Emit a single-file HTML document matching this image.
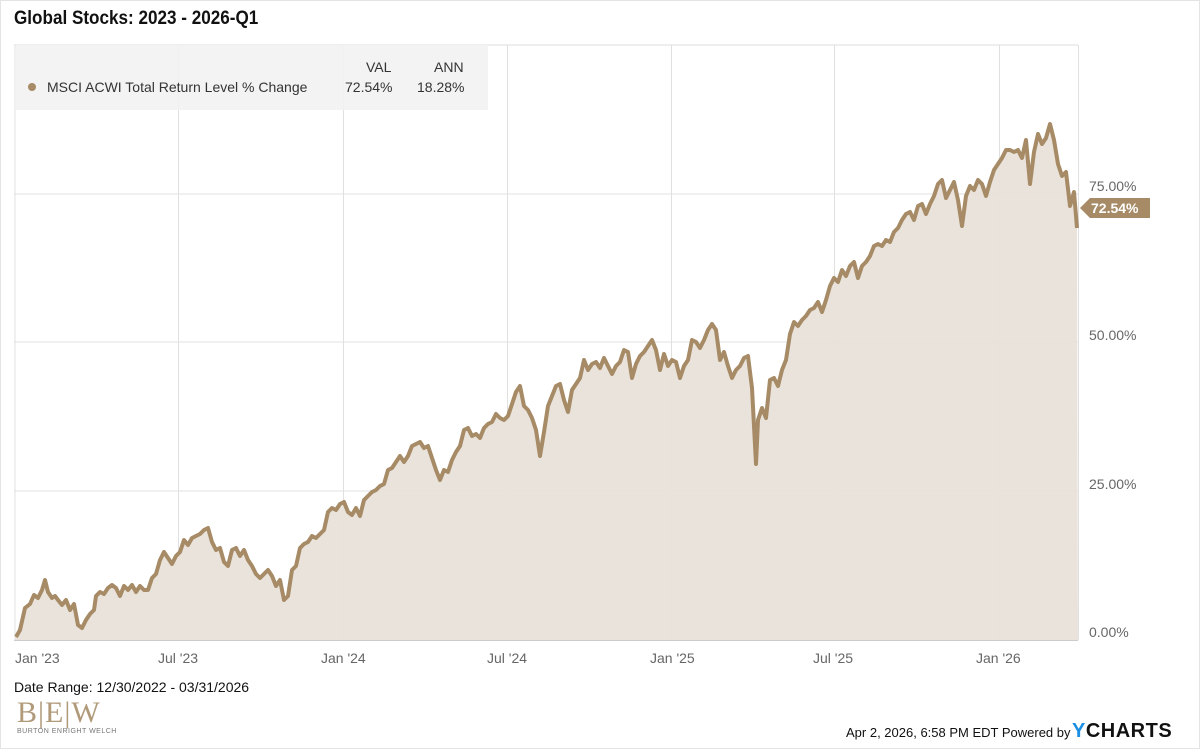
<!DOCTYPE html>
<html><head><meta charset="utf-8"><style>
body{margin:0;width:1200px;height:749px;background:#fff;font-family:"Liberation Sans",sans-serif;overflow:hidden;position:relative}
.t{position:absolute;white-space:nowrap}
</style></head><body>
<div style="position:absolute;left:0;top:0;width:1198px;height:747px;border:1px solid #e4e4e4"></div>
<div class="t" style="left:14px;top:8px;font-size:19px;font-weight:bold;color:#111;transform:scaleX(0.9);transform-origin:left">Global Stocks: 2023 - 2026-Q1</div>
<svg width="1200" height="749" style="position:absolute;left:0;top:0">
<line x1="14" y1="45" x2="1078" y2="45" stroke="#ddd"/>
<g stroke="#e0e0e0" stroke-width="1">
<line x1="14" y1="194" x2="1078" y2="194"/><line x1="14" y1="342" x2="1078" y2="342"/><line x1="14" y1="491" x2="1078" y2="491"/>
<line x1="15" y1="45" x2="15" y2="640"/><line x1="178.5" y1="45" x2="178.5" y2="640"/><line x1="343.5" y1="45" x2="343.5" y2="640"/><line x1="507.5" y1="45" x2="507.5" y2="640"/><line x1="671.5" y1="45" x2="671.5" y2="640"/><line x1="834.5" y1="45" x2="834.5" y2="640"/><line x1="999.5" y1="45" x2="999.5" y2="640"/><line x1="1078.5" y1="45" x2="1078.5" y2="640"/>
</g>
<rect x="16" y="45" width="472" height="65" fill="#f2f2f2" opacity="0.9"/>
<polygon id="area" fill="#e9e2d9" opacity="0.95" points=""/>
<polyline id="ln" fill="none" stroke="#a68b66" stroke-width="4" stroke-linejoin="round" points=""/>
<line x1="14" y1="640.5" x2="1078" y2="640.5" stroke="#ccc"/>
<circle cx="32" cy="87" r="4" fill="#a68b66"/>
<polygon points="1080,208 1090,198 1150,198 1150,218 1090,218" fill="#a68b66"/>
</svg>
<script>
var p=[16,637,20,630,25,608,30,604,34,595,38,598,42,590,45,580,48,592,52,598,55,596,58,600,62,605,66,600,70,610,74,604,78,625,82,628,86,620,90,614,94,610,96,596,100,592,104,594,108,588,112,585,116,588,120,596,124,586,128,590,132,585,136,592,140,586,144,590,148,590,152,578,156,574,160,560,164,552,168,558,172,564,176,556,180,552,184,540,188,545,192,538,196,536,200,534,204,530,208,528,212,542,216,550,220,548,224,562,228,566,232,550,236,548,240,556,244,550,248,560,252,566,256,574,260,578,264,574,268,570,272,576,276,586,280,580,284,600,288,596,292,570,296,566,300,548,304,544,308,542,312,536,316,538,320,534,324,530,328,512,332,508,336,510,340,504,344,502,348,512,352,515,356,508,360,516,364,500,368,496,372,492,376,490,380,486,384,484,388,470,392,468,396,462,400,456,404,462,408,456,412,446,416,444,420,442,424,448,428,446,432,458,436,470,440,480,444,470,448,472,452,460,456,452,460,446,464,430,468,428,472,436,476,434,480,438,484,428,488,424,492,422,496,414,500,418,504,420,508,416,512,404,516,392,520,386,524,406,528,410,532,418,536,430,540,456,544,432,548,406,552,396,556,386,560,384,564,400,568,412,572,390,576,384,580,378,584,360,588,370,592,364,596,362,600,368,604,358,608,366,612,374,616,366,620,362,624,350,628,352,632,378,636,364,640,356,644,352,648,346,652,340,656,350,660,370,664,354,668,366,672,360,676,362,680,378,684,366,688,360,692,340,696,342,700,348,704,340,708,330,712,324,716,330,720,360,724,352,728,366,732,378,736,370,740,366,744,358,748,356,752,388,756,464,758,420,762,408,766,418,770,380,774,378,778,386,782,370,786,360,790,334,794,322,798,326,802,320,806,316,810,310,814,308,818,302,822,312,826,300,830,286,834,278,838,282,842,270,846,276,850,266,854,262,858,278,862,266,866,262,870,256,874,246,878,244,882,246,886,240,890,242,894,232,898,228,902,220,906,214,910,212,914,220,918,206,922,204,926,214,930,204,934,196,938,184,942,180,946,198,950,190,954,182,958,200,962,226,966,196,970,186,974,190,978,180,982,184,986,196,990,182,994,170,998,164,1002,158,1006,150,1010,150,1014,152,1018,150,1022,158,1026,140,1030,184,1034,152,1038,134,1042,144,1046,138,1050,124,1054,140,1058,164,1062,176,1066,172,1070,206,1074,192,1077,228];
var s=[];for(var i=0;i<p.length;i+=2)s.push(p[i]+","+p[i+1]);
document.getElementById('ln').setAttribute('points',s.join(' '));
document.getElementById('area').setAttribute('points',"15,640 "+s.join(' ')+" 1078,640");
</script>
<div class="t" style="left:47px;top:79px;font-size:14px;color:#333">MSCI ACWI Total Return Level % Change</div>
<div class="t" style="left:366px;top:59px;font-size:14px;color:#333">VAL</div>
<div class="t" style="left:434px;top:59px;font-size:14px;color:#333">ANN</div>
<div class="t" style="left:345px;top:79px;font-size:14px;color:#333">72.54%</div>
<div class="t" style="left:417px;top:79px;font-size:14px;color:#333">18.28%</div>
<div class="t" style="left:1089px;top:178px;font-size:14px;color:#666">75.00%</div>
<div class="t" style="left:1091px;top:200px;font-size:14px;font-weight:bold;color:#fff">72.54%</div>
<div class="t" style="left:1089px;top:327px;font-size:14px;color:#666">50.00%</div>
<div class="t" style="left:1089px;top:476px;font-size:14px;color:#666">25.00%</div>
<div class="t" style="left:1089px;top:624px;font-size:14px;color:#666">0.00%</div>
<div class="t" style="left:15px;top:650px;font-size:14px;color:#666">Jan '23</div>
<div class="t" style="left:158px;top:650px;font-size:14px;color:#666">Jul '23</div>
<div class="t" style="left:321px;top:650px;font-size:14px;color:#666">Jan '24</div>
<div class="t" style="left:487px;top:650px;font-size:14px;color:#666">Jul '24</div>
<div class="t" style="left:650px;top:650px;font-size:14px;color:#666">Jan '25</div>
<div class="t" style="left:813px;top:650px;font-size:14px;color:#666">Jul '25</div>
<div class="t" style="left:976px;top:650px;font-size:14px;color:#666">Jan '26</div>
<div class="t" style="left:14px;top:679px;font-size:14px;color:#111">Date Range: 12/30/2022 - 03/31/2026</div>
<div class="t" style="left:17px;top:696px;font-family:'Liberation Serif',serif;font-size:30px;color:#b09a7a;letter-spacing:1px">B|E|W</div>
<div class="t" style="left:17px;top:728px;font-size:7px;color:#777;letter-spacing:0.5px">BURTON ENRIGHT WELCH</div>
<div class="t" style="left:846px;top:725px;font-size:13px;color:#111">Apr 2, 2026, 6:58 PM EDT Powered by</div>
<div class="t" style="left:1072px;top:720px;font-size:20px;font-weight:bold;color:#111;letter-spacing:0.5px"><span style="color:#1a8fe3">Y</span>CHARTS</div>
</body></html>
